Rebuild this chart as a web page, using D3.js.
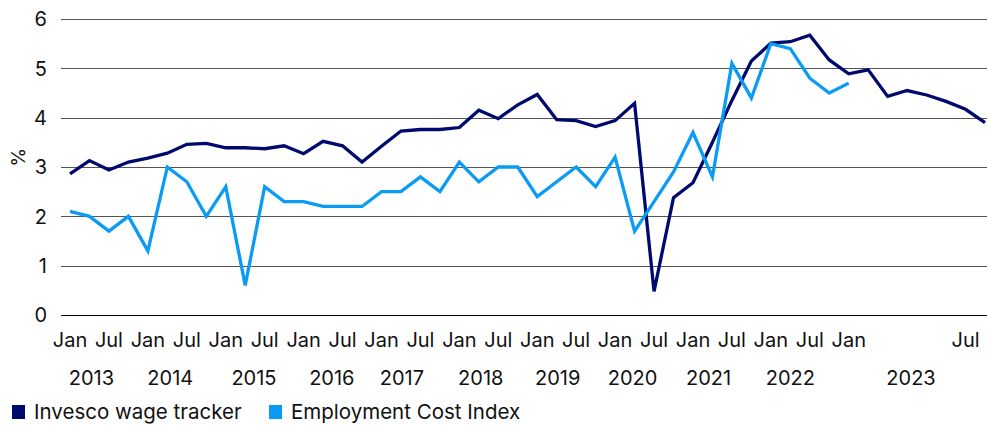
<!DOCTYPE html>
<html>
<head>
<meta charset="utf-8">
<script src="https://cdn.jsdelivr.net/npm/d3@7"></script>
<style>
  html, body { margin: 0; padding: 0; background: #fff; }
  svg { display: block; }
</style>
</head>
<body>
<div id="chart-container"></div>
<script>
// Quarterly from Jan 2013 to Jan 2023, then monthly Feb 2023 - Aug 2023
const wageTracker = [
    2.86, 3.13, 2.94, 3.10, 3.18, 3.28, 3.46, 3.48, 3.39, 3.39,
    3.37, 3.43, 3.27, 3.52, 3.43, 3.10, 3.42, 3.73, 3.76, 3.76,
    3.80, 4.15, 3.98, 4.26, 4.47, 3.96, 3.94, 3.82, 3.94, 4.29,
    0.48, 2.38, 2.68, 3.50, 4.35, 5.15, 5.51, 5.54, 5.67, 5.17,
    4.89, 4.97, 4.43, 4.55, 4.46, 4.33, 4.17, 3.90
];
const eci = [
    2.1, 2.0, 1.7, 2.0, 1.3, 3.0, 2.7, 2.0, 2.6, 0.6,
    2.6, 2.3, 2.3, 2.2, 2.2, 2.2, 2.5, 2.5, 2.8, 2.5,
    3.1, 2.7, 3.0, 3.0, 2.4, 2.7, 3.0, 2.6, 3.2, 1.7,
    2.3, 2.9, 3.7, 2.8, 5.1, 4.4, 5.5, 5.4, 4.8, 4.5,
    4.7
];
// category index -> month label
const monthTicks = [
    [0, "Jan"], [2, "Jul"], [4, "Jan"], [6, "Jul"], [8, "Jan"], [10, "Jul"],
    [12, "Jan"], [14, "Jul"], [16, "Jan"], [18, "Jul"], [20, "Jan"], [22, "Jul"],
    [24, "Jan"], [26, "Jul"], [28, "Jan"], [30, "Jul"], [32, "Jan"], [34, "Jul"],
    [36, "Jan"], [38, "Jul"], [40, "Jan"], [46, "Jul"]
];
// year label, centred on category index
const yearTicks = [
    [1.1, "2013"], [5.15, "2014"], [9.45, "2015"], [13.45, "2016"], [17.05, "2017"],
    [21.1, "2018"], [25.05, "2019"], [28.9, "2020"], [32.8, "2021"], [37.0, "2022"],
    [43.2, "2023"]
];
const yTicks = [0, 1, 2, 3, 4, 5, 6];
const seriesNames = ["Invesco wage tracker", "Employment Cost Index"];
const colors = ["#000a6e", "#0a9cf5"];

const width = 987, height = 425;
const font = "Inter, 'Noto Sans', sans-serif";

const svg = d3.select("#chart-container")
    .append("svg")
    .attr("width", width)
    .attr("height", height)
    .style("font-family", font);

const x = d3.scaleLinear().domain([0, wageTracker.length - 1]).range([70, 985]);
const y = d3.scaleLinear().domain([0, 6]).range([315, 19]);

// gridlines
svg.append("g")
    .selectAll("line")
    .data(yTicks)
    .join("line")
    .attr("x1", 61)
    .attr("x2", width)
    .attr("y1", d => Math.round(y(d)) + 0.5)
    .attr("y2", d => Math.round(y(d)) + 0.5)
    .attr("stroke", d => d === 0 ? "#000" : "#555")
    .attr("stroke-width", 1);

// y labels
svg.append("g")
    .selectAll("text")
    .data(yTicks)
    .join("text")
    .attr("x", 47)
    .attr("y", d => y(d))
    .attr("dy", "0.36em")
    .attr("text-anchor", "end")
    .style("font-size", "20px")
    .attr("fill", "#111")
    .text(d => d);

svg.append("text")
    .attr("transform", `translate(25, ${y(3.2)}) rotate(-90)`)
    .attr("text-anchor", "middle")
    .style("font-size", "19px")
    .attr("fill", "#111")
    .text("%");

// x labels
svg.append("g")
    .selectAll("text")
    .data(monthTicks)
    .join("text")
    .attr("x", d => x(d[0]))
    .attr("y", 347)
    .attr("text-anchor", "middle")
    .style("font-size", "20px")
    .attr("fill", "#111")
    .text(d => d[1]);

svg.append("g")
    .selectAll("text")
    .data(yearTicks)
    .join("text")
    .attr("x", d => x(d[0]))
    .attr("y", 385)
    .attr("text-anchor", "middle")
    .style("font-size", "20px")
    .attr("fill", "#111")
    .text(d => d[1]);

// lines
const line = d3.line()
    .x((d, i) => x(i))
    .y(d => y(d));

[wageTracker, eci].forEach((s, k) => {
    svg.append("path")
        .datum(s)
        .attr("fill", "none")
        .attr("stroke", colors[k])
        .attr("stroke-width", 3.3)
        .attr("stroke-linejoin", "miter")
        .attr("d", line);
});

// legend
const legendX = [12, 269];
seriesNames.forEach((name, k) => {
    const g = svg.append("g").attr("transform", `translate(${legendX[k]}, 405)`);
    g.append("rect")
        .attr("width", 13)
        .attr("height", 14)
        .attr("fill", colors[k]);
    g.append("text")
        .attr("x", 22)
        .attr("y", 14)
        .style("font-size", "20.5px")
        .attr("fill", "#111")
        .text(name);
});
</script>
</body>
</html>
